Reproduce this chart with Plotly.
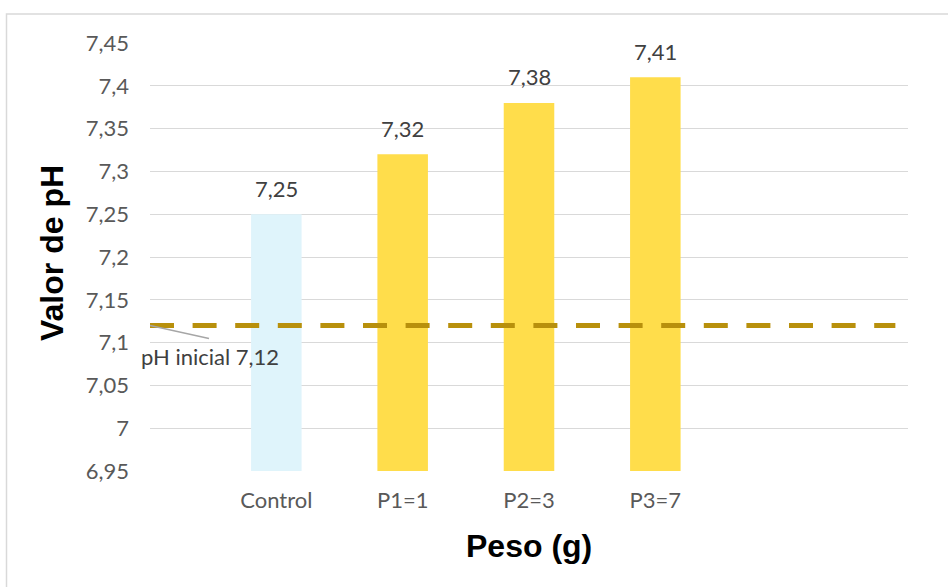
import plotly.graph_objects as go

# Sample groups and measured pH values
categories = ["Control", "P1=1", "P2=3", "P3=7"]
ph_values = [7.25, 7.32, 7.38, 7.41]
bar_colors = ["#DFF4FB", "#FFDD4B", "#FFDD4B", "#FFDD4B"]

# Starting pH reference
ph_initial = 7.12

# Value axis ticks
y_ticks = [6.95, 7.0, 7.05, 7.1, 7.15, 7.2, 7.25, 7.3, 7.35, 7.4, 7.45]


def fmt(v):
    s = f"{v:.2f}".rstrip("0").rstrip(".")
    return s.replace(".", ",")


y_ticktext = [fmt(v) for v in y_ticks]

TICK_FONT = dict(family="Lato, Carlito, Calibri, sans-serif", size=22, color="#595959")
LABEL_FONT = dict(family="Lato, Carlito, Calibri, sans-serif", size=22, color="#404040")
TITLE_FONT = dict(family="Arial, Liberation Sans, sans-serif", size=32, color="#000000")

fig = go.Figure()

fig.add_trace(go.Bar(
    x=categories,
    y=ph_values,
    marker=dict(color=bar_colors, line=dict(width=0)),
    width=0.4,
    showlegend=False,
    hoverinfo="x+y",
))

# Value labels above each bar
for c, v in zip(categories, ph_values):
    fig.add_annotation(
        x=c, y=v, text=fmt(v), showarrow=False,
        xanchor="center", yanchor="middle", yshift=26,
        font=LABEL_FONT,
    )

# Dashed reference line for initial pH
fig.add_shape(
    type="line", xref="x", yref="y",
    x0=-1, x1=4.9, y0=ph_initial, y1=ph_initial,
    line=dict(color="#B8900C", width=5, dash="24px,18.6px"),
    layer="above",
)

# Leader line and label for the reference
fig.add_shape(
    type="line", xref="x", yref="y",
    x0=-1, y0=ph_initial, x1=-0.533, y1=ph_initial - 0.0152,
    line=dict(color="#A6A6A6", width=1.5),
    layer="above",
)
fig.add_annotation(
    x=-0.525, y=ph_initial - 0.036, xref="x", yref="y",
    text=f"pH inicial {fmt(ph_initial)}", showarrow=False,
    xanchor="center", yanchor="middle",
    font=LABEL_FONT,
)

# Axis titles
fig.add_annotation(
    xref="paper", yref="paper", x=(52 - 150) / 758, y=(471 - 253) / 428,
    text="<b>Valor de pH</b>", textangle=-90, showarrow=False,
    xanchor="center", yanchor="middle", font=TITLE_FONT,
)
fig.add_annotation(
    xref="paper", yref="paper", x=(529 - 150) / 758, y=(471 - 546) / 428,
    text="<b>Peso (g)</b>", showarrow=False,
    xanchor="center", yanchor="middle", font=TITLE_FONT,
)

# Outer chart border
fig.add_shape(
    type="rect", xref="paper", yref="paper",
    x0=(6.5 - 150) / 758, x1=(990 - 150) / 758,
    y0=(471 - 620) / 428, y1=(471 - 14) / 428,
    line=dict(color="#D9D9D9", width=1.5),
    fillcolor="rgba(0,0,0,0)", layer="below",
)

fig.update_layout(
    width=948, height=587,
    margin=dict(l=150, r=40, t=43, b=116),
    paper_bgcolor="white", plot_bgcolor="white",
    bargap=0.6,
    xaxis=dict(
        type="category", categoryorder="array", categoryarray=categories,
        range=[-1, 5], showgrid=False, zeroline=False, showline=False,
        ticks="", tickfont=TICK_FONT, ticklabelstandoff=14,
    ),
    yaxis=dict(
        range=[6.95, 7.45], tickvals=y_ticks, ticktext=y_ticktext,
        showgrid=True, gridcolor="#D9D9D9", gridwidth=1,
        zeroline=False, showline=False, ticks="",
        tickfont=TICK_FONT, ticklabelstandoff=20,
    ),
)

fig.write_html("out.html")
